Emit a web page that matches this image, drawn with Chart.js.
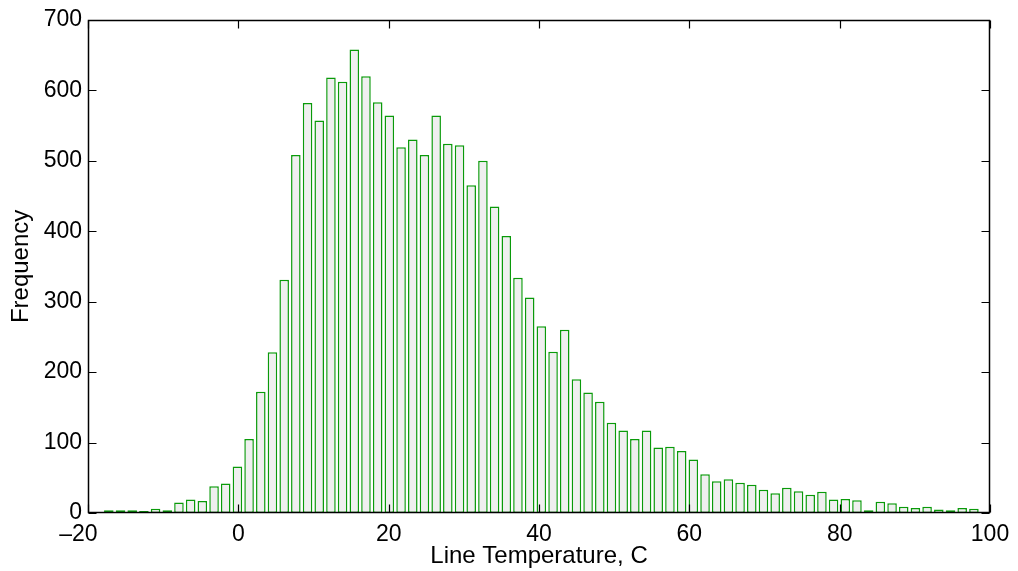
<!DOCTYPE html>
<html>
<head>
<meta charset="utf-8">
<script src="https://cdn.jsdelivr.net/npm/chart.js@4/dist/chart.umd.min.js"></script>
<style>
  html, body { margin: 0; padding: 0; background: #ffffff; }
  #wrap { width: 1018px; height: 571px; }
</style>
</head>
<body>
<div id="wrap"><canvas id="c" width="1018" height="571"></canvas></div>
<script>
// Histogram bin centres (°C)
const binCenters = [
  -17.23, -15.67, -14.12, -12.56, -11.01, -9.45, -7.90, -6.34, -4.79, -3.23,
  -1.68, -0.12, 1.43, 2.99, 4.54, 6.10, 7.65, 9.21, 10.76, 12.32,
  13.87, 15.43, 16.98, 18.54, 20.09, 21.65, 23.21, 24.76, 26.32, 27.87,
  29.43, 30.98, 32.54, 34.09, 35.65, 37.20, 38.76, 40.31, 41.87, 43.42,
  44.98, 46.53, 48.09, 49.64, 51.20, 52.75, 54.31, 55.86, 57.42, 58.98,
  60.53, 62.09, 63.64, 65.20, 66.75, 68.31, 69.86, 71.42, 72.97, 74.53,
  76.08, 77.64, 79.19, 80.75, 82.30, 83.86, 85.41, 86.97, 88.52, 90.08,
  91.63, 93.19, 94.75, 96.30, 97.86
];
// Frequency in each bin
const frequencies = [
  4, 4, 4, 3, 6, 4, 15, 19, 17, 38,
  42, 66, 105, 172, 228, 331, 508, 582, 557, 618,
  612, 658, 620, 583, 564, 519, 530, 508, 564, 524,
  522, 465, 500, 435, 393, 334, 306, 265, 229, 260,
  190, 171, 158, 128, 117, 105, 117, 93, 94, 88,
  76, 55, 45, 48, 43, 40, 33, 28, 36, 31,
  26, 30, 19, 20, 18, 4, 16, 14, 9, 7,
  9, 5, 4, 7, 6
];
const xTicks = [-20, 0, 20, 40, 60, 80, 100];
const yTicks = [0, 100, 200, 300, 400, 500, 600, 700];
const xTitle = 'Line Temperature, C';
const yTitle = 'Frequency';

const FONT = 'Liberation Sans, Arial, Helvetica, sans-serif';

const framePlugin = {
  id: 'frame',
  afterDatasetsDraw(chart) {
    const { ctx, chartArea: { left, right, top, bottom }, scales: { x, y } } = chart;
    ctx.save();
    ctx.strokeStyle = '#000';
    ctx.lineWidth = 1.2;
    const L = Math.round(left) + 0.5, R = Math.round(right) - 0.5;
    const T = Math.round(top) + 0.5, B = Math.round(bottom) - 0.5;
    ctx.beginPath();
    const tl = 8;
    x.ticks.forEach(t => {
      const px = Math.round(x.getPixelForValue(t.value)) + 0.5;
      ctx.moveTo(px, B); ctx.lineTo(px, B - tl);
      ctx.moveTo(px, T); ctx.lineTo(px, T + tl);
    });
    y.ticks.forEach(t => {
      const py = Math.round(y.getPixelForValue(t.value)) + 0.5;
      ctx.moveTo(L, py); ctx.lineTo(L + tl, py);
      ctx.moveTo(R, py); ctx.lineTo(R - tl, py);
    });
    ctx.stroke();
    ctx.lineWidth = 1.5;
    ctx.strokeRect(L, T, R - L, B - T);
    ctx.restore();
  }
};

new Chart(document.getElementById('c'), {
  type: 'bar',
  data: {
    datasets: [{
      data: binCenters.map((c, i) => ({ x: c, y: frequencies[i] })),
      backgroundColor: '#efefef',
      borderColor: '#0a9a0a',
      borderWidth: 1.5,
      borderSkipped: false,
      barPercentage: 0.82,
      categoryPercentage: 1.0
    }]
  },
  options: {
    responsive: false,
    animation: false,
    devicePixelRatio: 1,
    layout: { padding: { left: 0, top: 19, right: 28, bottom: 0 } },
    plugins: { legend: { display: false }, tooltip: { enabled: false } },
    scales: {
      x: {
        type: 'linear',
        min: -20, max: 100,
        offset: false,
        afterBuildTicks(scale) { scale.ticks = xTicks.map(v => ({ value: v })); },
        afterFit(scale) { scale.height = 58; },
        grid: { display: false, drawTicks: false },
        border: { display: false },
        ticks: {
          color: '#000',
          font: { family: FONT, size: 23 },
          padding: 8,
          maxRotation: 0,
          autoSkip: false,
          callback(v) { return v < 0 ? '\u2013' + Math.abs(v) + '   ' : String(v); }
        },
        title: {
          display: true, text: xTitle, color: '#000',
          font: { family: FONT, size: 24 },
          padding: { top: 0, bottom: 0 }
        }
      },
      y: {
        min: 0, max: 700,
        afterBuildTicks(scale) { scale.ticks = yTicks.map(v => ({ value: v })); },
        afterFit(scale) { scale.width = 88; },
        grid: { display: false, drawTicks: false },
        border: { display: false },
        ticks: {
          color: '#000',
          font: { family: FONT, size: 23 },
          padding: 6,
          autoSkip: false
        },
        title: {
          display: true, text: yTitle, color: '#000',
          font: { family: FONT, size: 24 },
          padding: { top: 7, bottom: 0 }
        }
      }
    }
  },
  plugins: [framePlugin]
});
</script>
</body>
</html>
